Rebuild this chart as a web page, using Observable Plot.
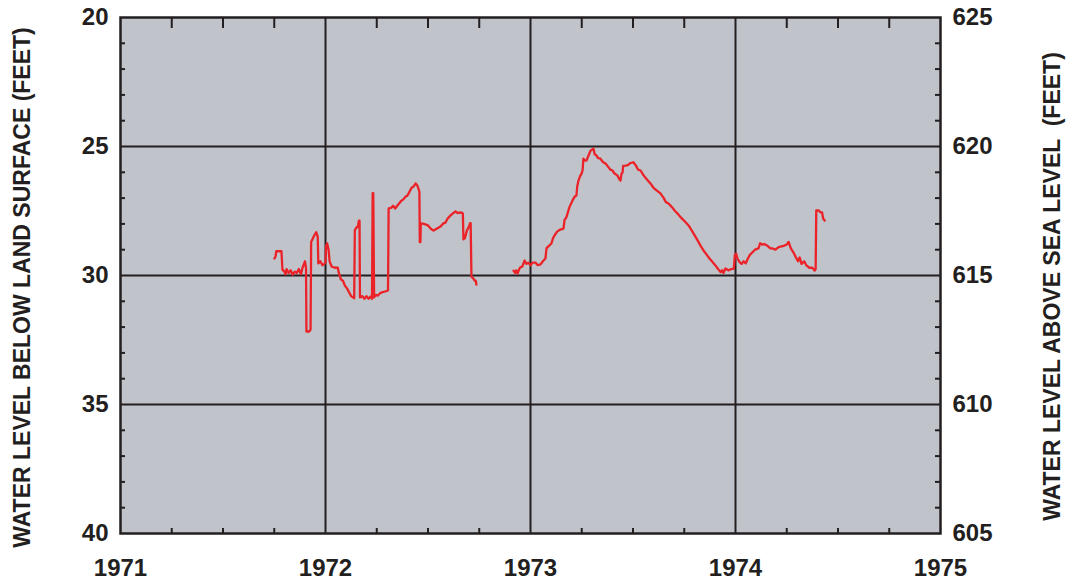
<!DOCTYPE html>
<html>
<head>
<meta charset="utf-8">
<script src="https://cdn.jsdelivr.net/npm/d3@7"></script>
<script src="https://cdn.jsdelivr.net/npm/@observablehq/plot@0.6"></script>
<style>
  html, body { margin: 0; padding: 0; background: #fff; }
</style>
</head>
<body>
<div id="chart"></div>
<script>
// Tick values
const yearTicks = [1971, 1972, 1973, 1974, 1975];
const depthTicks = [20, 25, 30, 35, 40];
const landSurfaceAltitude = 645; // sea level = 645 - depth
const leftTitle = "WATER LEVEL BELOW LAND SURFACE (FEET)";
const rightTitle = "WATER LEVEL ABOVE SEA LEVEL  (FEET)";

// Segment A (late 1971 – 1972)
const yearsA = [1971.751,1971.756,1971.760,1971.785,1971.790,1971.800,1971.805,1971.810,1971.820,1971.830,1971.840,1971.850,1971.860,1971.870,1971.880,1971.888,1971.895,1971.900,1971.905,1971.907,1971.920,1971.927,1971.930,1971.945,1971.955,1971.962,1971.965,1971.975,1971.985,1971.995,1972.000,1972.003,1972.008,1972.015,1972.020,1972.030,1972.045,1972.060,1972.065,1972.075,1972.085,1972.095,1972.105,1972.115,1972.125,1972.135,1972.140,1972.143,1972.150,1972.158,1972.163,1972.166,1972.168,1972.180,1972.190,1972.200,1972.210,1972.220,1972.227,1972.230,1972.233,1972.237,1972.245,1972.255,1972.265,1972.275,1972.290,1972.305,1972.308,1972.320,1972.330,1972.340,1972.350,1972.360,1972.370,1972.380,1972.390,1972.400,1972.410,1972.420,1972.430,1972.440,1972.450,1972.458,1972.460,1972.463,1972.465,1972.480,1972.500,1972.515,1972.527,1972.540,1972.561,1972.575,1972.585,1972.595,1972.610,1972.620,1972.634,1972.645,1972.660,1972.670,1972.673,1972.680,1972.690,1972.700,1972.705,1972.708,1972.712,1972.720,1972.728,1972.733,1972.736];
const depthA = [29.34,29.28,29.06,29.06,29.77,29.85,29.95,29.75,29.90,29.80,29.97,29.85,29.90,29.75,29.95,29.70,29.55,29.45,29.70,32.17,32.17,32.10,28.70,28.45,28.32,28.50,29.53,29.45,29.60,29.55,29.50,28.85,28.75,29.00,29.45,29.65,29.70,29.70,29.90,30.15,30.20,30.40,30.50,30.65,30.80,30.85,30.88,28.25,28.15,28.10,27.87,27.87,30.85,30.80,30.90,30.80,30.90,30.82,30.90,26.81,26.81,30.85,30.75,30.78,30.70,30.65,30.62,30.58,27.40,27.38,27.30,27.40,27.30,27.20,27.10,27.05,26.95,26.90,26.75,26.60,26.55,26.43,26.55,26.75,28.71,28.71,27.98,28.00,28.06,28.20,28.26,28.20,28.10,27.98,27.95,27.80,27.67,27.60,27.52,27.58,27.55,27.60,28.60,28.55,28.25,28.10,27.97,27.97,30.05,30.10,30.20,30.20,30.35];

// Segment B (late 1972 – mid 1974)
const yearsB = [1972.917,1972.925,1972.930,1972.937,1972.945,1972.951,1972.960,1972.971,1972.980,1972.990,1973.000,1973.010,1973.024,1973.035,1973.049,1973.060,1973.073,1973.078,1973.090,1973.102,1973.110,1973.117,1973.130,1973.145,1973.161,1973.166,1973.175,1973.190,1973.205,1973.215,1973.224,1973.228,1973.234,1973.242,1973.249,1973.254,1973.258,1973.265,1973.273,1973.283,1973.293,1973.300,1973.307,1973.313,1973.322,1973.330,1973.341,1973.353,1973.366,1973.380,1973.390,1973.400,1973.410,1973.424,1973.432,1973.439,1973.444,1973.449,1973.452,1973.463,1973.475,1973.485,1973.502,1973.515,1973.525,1973.537,1973.550,1973.565,1973.585,1973.600,1973.615,1973.634,1973.650,1973.660,1973.673,1973.690,1973.705,1973.720,1973.732,1973.750,1973.771,1973.790,1973.805,1973.815,1973.830,1973.844,1973.860,1973.873,1973.885,1973.902,1973.915,1973.927,1973.935,1973.941,1973.951,1973.965,1973.980,1973.992,1973.997,1974.003,1974.010,1974.020,1974.030,1974.040,1974.050,1974.060,1974.070,1974.083,1974.095,1974.112,1974.120,1974.130,1974.140,1974.156,1974.170,1974.180,1974.195,1974.210,1974.220,1974.235,1974.250,1974.259,1974.270,1974.283,1974.295,1974.305,1974.313,1974.322,1974.335,1974.346,1974.360,1974.375,1974.386,1974.391,1974.394,1974.405,1974.415,1974.422,1974.428,1974.435];
const depthB = [29.81,29.90,29.80,29.92,29.75,29.68,29.65,29.42,29.55,29.50,29.61,29.50,29.50,29.60,29.57,29.45,29.34,28.95,28.85,28.76,28.55,28.45,28.30,28.22,28.18,27.85,27.75,27.35,27.09,26.95,26.90,26.55,26.32,26.15,26.05,25.93,25.47,25.55,25.54,25.35,25.16,25.12,25.08,25.30,25.35,25.45,25.47,25.60,25.66,25.80,25.90,25.93,26.05,26.12,26.25,26.32,26.05,26.01,25.75,25.74,25.72,25.65,25.61,25.75,25.90,25.93,26.10,26.25,26.43,26.60,26.70,26.82,27.00,27.15,27.21,27.35,27.50,27.62,27.74,27.88,28.06,28.30,28.50,28.64,28.85,29.03,29.20,29.34,29.45,29.61,29.75,29.87,29.80,29.90,29.73,29.80,29.75,29.73,29.20,29.15,29.35,29.48,29.55,29.45,29.53,29.35,29.20,29.10,29.00,28.95,28.75,28.80,28.78,28.85,28.95,28.95,29.00,28.90,28.88,28.85,28.80,28.70,28.95,29.11,29.30,29.45,29.30,29.55,29.45,29.61,29.70,29.70,29.81,29.75,27.48,27.48,27.55,27.55,27.80,27.87];

const segA = yearsA.map((x, i) => ({x, y: depthA[i]}));
const segB = yearsB.map((x, i) => ({x, y: depthB[i]}));

const minorX = d3.range(1971, 1975.001, 0.25).filter(v => Math.abs(v - Math.round(v)) > 1e-6);
const minorY = d3.range(20, 40.001, 1).filter(v => v % 5 !== 0);

const W = 1068, H = 579;
const mL = 120, mR = 128, mT = 17, mB = 46;
const fw = W - mL - mR, fh = H - mT - mB;
const ink = "#231f20";

const chart = Plot.plot({
  width: W,
  height: H,
  marginLeft: mL,
  marginRight: mR,
  marginTop: mT,
  marginBottom: mB,
  style: {fontFamily: "'Liberation Sans', Arial, sans-serif", fontSize: "24px", fontWeight: "bold", color: ink, background: "#fff", overflow: "visible"},
  x: {domain: [1971, 1975]},
  y: {domain: [20, 40], reverse: true},
  marks: [
    Plot.frame({fill: "#c0c3ca"}),
    Plot.ruleX([1972, 1973, 1974], {stroke: ink, strokeWidth: 2}),
    Plot.ruleY([25, 30, 35], {stroke: ink, strokeWidth: 2}),
    Plot.ruleX(minorX, {stroke: ink, strokeWidth: 2, insetBottom: fh - 11}),
    Plot.ruleX(minorX, {stroke: ink, strokeWidth: 2, insetTop: fh - 5}),
    Plot.ruleY(minorY, {stroke: ink, strokeWidth: 2, insetRight: fw - 5}),
    Plot.ruleY(minorY, {stroke: ink, strokeWidth: 2, insetLeft: fw - 5}),
    Plot.line(segA, {x: "x", y: "y", stroke: "#ec2229", strokeWidth: 2.3}),
    Plot.line(segB, {x: "x", y: "y", stroke: "#ec2229", strokeWidth: 2.3}),
    Plot.frame({stroke: ink, strokeWidth: 2.5}),
    Plot.axisX({ticks: yearTicks, tickFormat: "d", tickSize: 0, tickPadding: 25, label: null}),
    Plot.axisY({ticks: depthTicks, tickSize: 0, tickPadding: 12, label: null}),
    Plot.axisY({anchor: "right", ticks: depthTicks, tickFormat: d => String(landSurfaceAltitude - d), tickSize: 0, tickPadding: 12, label: null}),
    Plot.text([leftTitle], {frameAnchor: "left", textAnchor: "middle", lineAnchor: "middle", dx: -98, dy: 12, rotate: -90, fontSize: 23, fontWeight: "bold", fill: ink}),
    Plot.text([rightTitle], {frameAnchor: "right", textAnchor: "middle", lineAnchor: "middle", dx: 112, dy: 11, rotate: -90, fontSize: 23, fontWeight: "bold", fill: ink})
  ]
});
document.getElementById("chart").appendChild(chart);
</script>
</body>
</html>
